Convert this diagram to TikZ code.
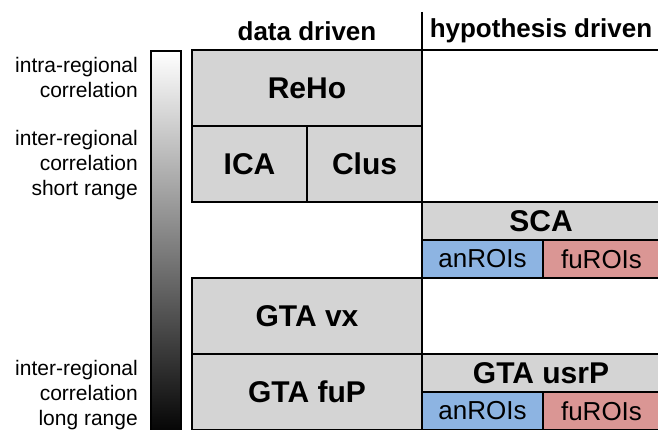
\documentclass[tikz,border=0pt]{standalone}
\usepackage{fontspec}
\setmainfont{Liberation Sans}
\definecolor{cellgray}{HTML}{D4D4D4}
\definecolor{roiblue}{HTML}{8DB4E2}
\definecolor{roired}{HTML}{DA9694}
\newcommand{\cellfont}{\fontsize{30}{36}\selectfont\bfseries}
\newcommand{\headfont}{\fontsize{26}{31}\selectfont\bfseries}
\newcommand{\roifont}{\fontsize{26}{31}\selectfont}
\newcommand{\sidefont}{\fontsize{21}{25}\selectfont}
\newcommand{\methodcell}[5] {\node at (#1) (#2) [rectangle, draw, line width=2pt, fill=cellgray, minimum width=#3, minimum height=#4, inner sep=0pt, font=\cellfont] {#5};}
\newcommand{\emptycell}[4] {\node at (#1) (#2) [rectangle, draw, line width=2pt, fill=white, minimum width=#3, minimum height=#4, inner sep=0pt] {};}
\newcommand{\roicell}[5] {\node at (#1) (#2) [rectangle, draw, line width=2pt, fill=#3, minimum width=#4, minimum height=38pt, inner sep=0pt, font=\roifont] {#5};}
\newcommand{\sidelabel}[3] {\node at (#1) (#2) [anchor=east, align=right, inner sep=0pt, font=\sidefont] {#3};}
\newcommand{\colhead}[3] {\node at (#1) (#2) [inner sep=0pt, font=\headfont] {#3};}

\begin{document}
\begin{tikzpicture}[x=1pt, y=-1pt]
\useasboundingbox (0,0) rectangle (658,430);

\node at (166,245) (corrbar) [rectangle, draw, line width=2pt, top color=white, middle color=black!30, bottom color=black, minimum width=30pt, minimum height=388pt] {};

\sidelabel {138,77}{intra}{intra-regional\\correlation}
\sidelabel {138,165}{short}{inter-regional\\correlation\\short range}
\sidelabel {138,395}{long}{inter-regional\\correlation\\long range}

\colhead {307,31}{datahead}{data driven}
\colhead {541,31}{hyphead}{hypothesis driven}

\methodcell {307,88}{reho}{230pt}{76pt}{ReHo}
\methodcell {249.5,164}{ica}{115pt}{76pt}{ICA}
\methodcell {364.5,164}{clus}{115pt}{76pt}{Clus}
\emptycell  {541,126}{hyptop}{238pt}{152pt}

\methodcell {541,221}{sca}{238pt}{38pt}{SCA}
\roicell    {482.5,259}{scaan}{roiblue}{121pt}{anROIs}
\roicell    {601.5,259}{scafu}{roired}{117pt}{fuROIs}

\methodcell {307,316}{gtavx}{230pt}{76pt}{GTA vx}
\emptycell  {541,316}{hypmid}{238pt}{76pt}
\methodcell {307,392}{gtafup}{230pt}{76pt}{GTA fuP}
\methodcell {541,373}{gtausrp}{238pt}{38pt}{GTA usrP}
\roicell    {482.5,411}{usran}{roiblue}{121pt}{anROIs}
\roicell    {601.5,411}{usrfu}{roired}{117pt}{fuROIs}

\coordinate (divtop) at (422,12);
\draw [line width=2pt] (divtop) -- (divtop |- hyptop.north);

\end{tikzpicture}
\end{document}
